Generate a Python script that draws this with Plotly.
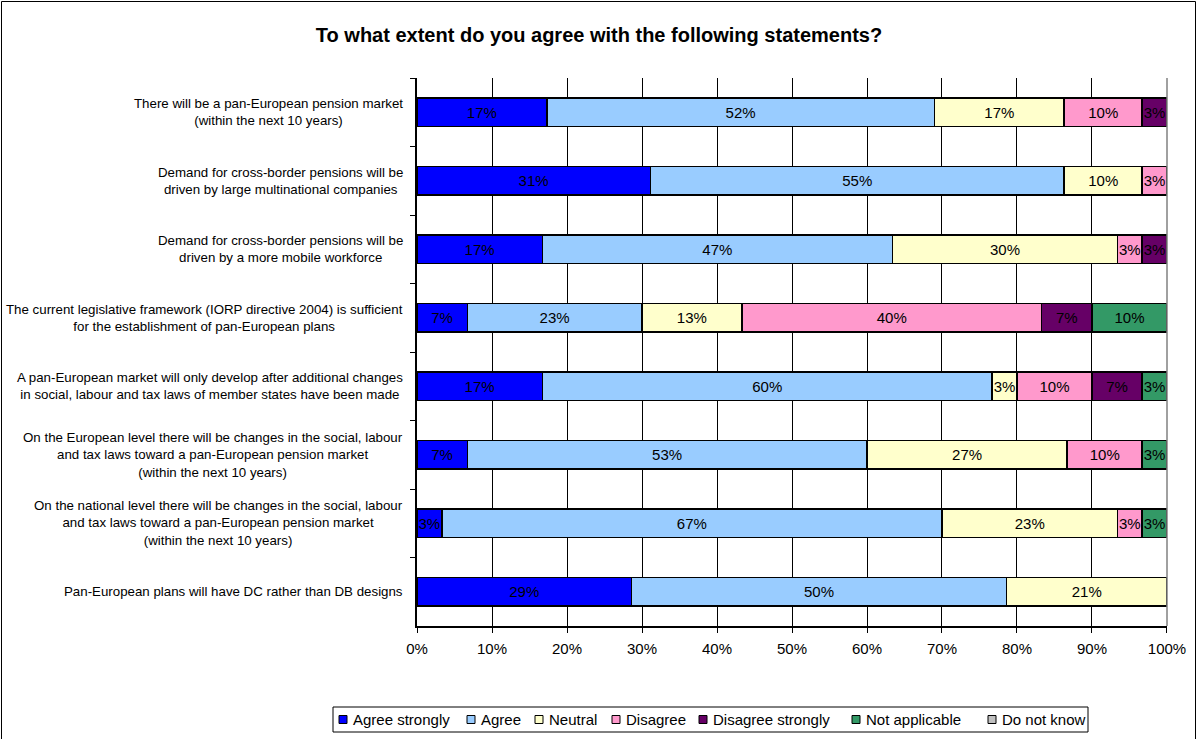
import plotly.graph_objects as go

# Survey statements (top to bottom)
statements = [
    "There will be a pan-European pension market<br>(within the next 10 years)",
    "Demand for cross-border pensions will be<br>driven by large multinational companies",
    "Demand for cross-border pensions will be<br>driven by a more mobile workforce",
    "The current legislative framework (IORP directive 2004) is sufficient<br>for the establishment of pan-European plans",
    "A pan-European market will only develop after additional changes<br>in social, labour and tax laws of member states have been made",
    "On the European level there will be changes in the social, labour<br>and tax laws toward a pan-European pension market<br>(within the next 10 years)",
    "On the national level there will be changes in the social, labour<br>and tax laws toward a pan-European pension market<br>(within the next 10 years)",
    "Pan-European plans will have DC rather than DB designs",
]

# Share of respondents per answer (%)
agree_strongly = [17.3, 31.1, 16.7, 6.7, 16.7, 6.7, 3.3, 28.6]
agree = [51.7, 55.2, 46.7, 23.3, 60.0, 53.3, 66.7, 50.0]
neutral = [17.3, 10.4, 30.0, 13.3, 3.3, 26.7, 23.4, 21.4]
disagree = [10.4, 3.3, 3.3, 40.0, 10.0, 10.0, 3.3, 0]
disagree_strongly = [3.3, 0, 3.3, 6.7, 6.7, 0, 0, 0]
not_applicable = [0, 0, 0, 10.0, 3.3, 3.3, 3.3, 0]
do_not_know = [0, 0, 0, 0, 0, 0, 0, 0]

x_ticks = list(range(0, 101, 10))
x_tick_labels = [f"{v}%" for v in x_ticks]

series = [
    ("Agree strongly", agree_strongly, "#0000FF"),
    ("Agree", agree, "#99CCFF"),
    ("Neutral", neutral, "#FFFFCC"),
    ("Disagree", disagree, "#FF99CC"),
    ("Disagree strongly", disagree_strongly, "#660066"),
    ("Not applicable", not_applicable, "#339966"),
    ("Do not know", do_not_know, "#C0C0C0"),
]

FONT = "Arial, Liberation Sans, sans-serif"
W, H = 1198, 739
ML, MR, MT, MB = 417, 31, 78, 113
PW, PH = W - ML - MR, H - MT - MB


def px_x(px):
    """Figure pixel column -> paper x."""
    return (px - ML) / PW


def px_y(py):
    """Figure pixel row -> paper y."""
    return (MT + PH - py) / PH


fig = go.Figure()
for name, vals, color in series:
    fig.add_trace(go.Bar(
        name=name,
        y=statements,
        x=vals,
        orientation="h",
        marker=dict(color=color, line=dict(color="#000000", width=1.5)),
        text=[f"{v:.0f}%" if v > 0 else "" for v in vals],
        textposition="inside",
        insidetextanchor="middle",
        textangle=0,
        textfont=dict(family=FONT, size=15, color="#000000"),
        constraintext="none",
        cliponaxis=False,
        hoverinfo="skip",
        showlegend=False,
    ))

# Statement labels: block right-aligned, lines centred
for s in statements:
    fig.add_annotation(
        x=0, xref="paper", xanchor="right", xshift=-12,
        y=s, yref="y", yanchor="middle",
        text=s, align="center", showarrow=False,
        font=dict(family=FONT, size=13.3, color="#000000"),
    )

shapes = []
# Outer chart frame
shapes.append(dict(
    type="rect", xref="paper", yref="paper",
    x0=px_x(1.5), x1=px_x(W - 2.5), y0=px_y(H + 2), y1=px_y(1.5),
    line=dict(color="#000000", width=1), layer="below",
))
# Right edge of plot area
shapes.append(dict(
    type="line", xref="paper", yref="paper", x0=1, x1=1, y0=0, y1=1,
    line=dict(color="#808080", width=1.5),
))

# Legend: framed row of swatches and names below the plot
LEG_LEFT, LEG_RIGHT, LEG_TOP, LEG_BOTTOM = 333, 1088, 707, 732
legend_item_x = [339, 467, 535, 612, 699, 852, 988]
SW = 8
leg_mid = (LEG_TOP + LEG_BOTTOM) / 2
shapes.append(dict(
    type="rect", xref="paper", yref="paper",
    x0=px_x(LEG_LEFT), x1=px_x(LEG_RIGHT), y0=px_y(LEG_BOTTOM), y1=px_y(LEG_TOP),
    line=dict(color="#000000", width=1), fillcolor="#FFFFFF",
))
for (name, _, color), lx in zip(series, legend_item_x):
    shapes.append(dict(
        type="rect", xref="paper", yref="paper",
        x0=px_x(lx), x1=px_x(lx + SW),
        y0=px_y(leg_mid + SW / 2), y1=px_y(leg_mid - SW / 2),
        line=dict(color="#000000", width=1), fillcolor=color,
    ))
    fig.add_annotation(
        x=px_x(lx + SW + 4), xref="paper", xanchor="left",
        y=px_y(leg_mid), yref="paper", yanchor="middle",
        text=name, showarrow=False,
        font=dict(family=FONT, size=15, color="#000000"),
    )

fig.update_layout(
    width=W, height=H,
    barmode="stack",
    bargap=0.59,
    plot_bgcolor="#FFFFFF",
    paper_bgcolor="#FFFFFF",
    margin=dict(l=ML, r=MR, t=MT, b=MB, pad=0, autoexpand=False),
    font=dict(family=FONT, size=15, color="#000000"),
    shapes=shapes,
    title=dict(
        text="<b>To what extent do you agree with the following statements?</b>",
        x=0.5, xanchor="center", y=1 - 35 / H, yanchor="middle",
        font=dict(family=FONT, size=20, color="#000000"),
    ),
    xaxis=dict(
        # tiny headroom so stacks summing to 100 with float round-off stay in range
        range=[0, 100.001],
        tickvals=x_ticks, ticktext=x_tick_labels,
        showgrid=True, gridcolor="#000000", gridwidth=1,
        showline=True, linecolor="#000000", linewidth=1.5,
        ticks="outside", ticklen=5, tickcolor="#000000",
        ticklabelstandoff=3,
        tickfont=dict(family=FONT, size=15),
        zeroline=False, fixedrange=True,
    ),
    yaxis=dict(
        autorange="reversed",
        showticklabels=False,
        showline=True, linecolor="#000000", linewidth=1.5,
        ticks="outside", ticklen=5, tickcolor="#000000",
        tickson="boundaries",
        showgrid=False, fixedrange=True,
    ),
    showlegend=False,
)

fig.write_html("out.html")
